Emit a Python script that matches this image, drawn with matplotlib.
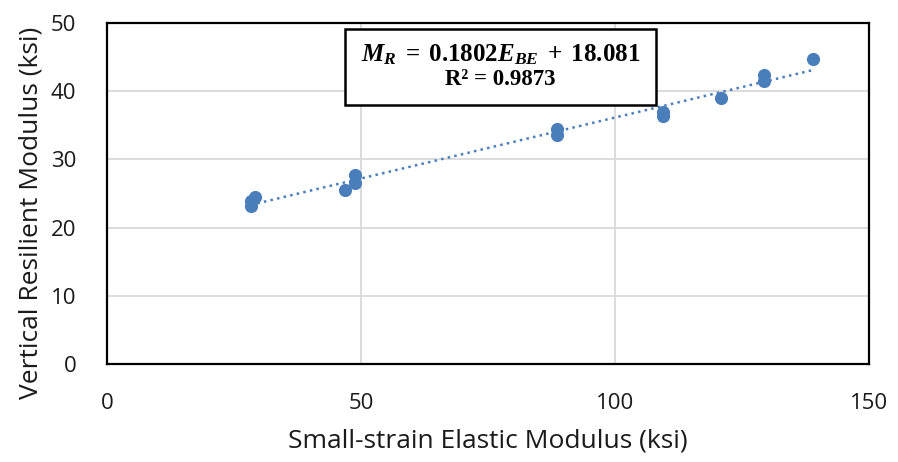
import matplotlib.pyplot as plt
import numpy as np
from matplotlib.patches import Rectangle

# valores
e_be = [28.3, 28.3, 29.1, 46.9, 48.8, 48.8, 88.6, 88.6, 109.4, 109.4, 120.9, 129.3, 129.3, 139.0]
m_r = [23.2, 23.9, 24.5, 25.5, 26.5, 27.7, 33.6, 34.5, 36.4, 36.9, 39.0, 41.5, 42.4, 44.7]

x_ticks = [0, 50, 100, 150]
y_ticks = [0, 10, 20, 30, 40, 50]

equation = r'$M_R\;=\;0.1802E_{BE}\;+\;18.081$'
r2_text = 'R² = 0.9873'

plt.rcParams['font.family'] = ['Open Sans', 'DejaVu Sans']
plt.rcParams['mathtext.fontset'] = 'custom'
plt.rcParams['mathtext.rm'] = 'Liberation Serif:bold'
plt.rcParams['mathtext.it'] = 'Liberation Serif:bold:italic'
plt.rcParams['mathtext.bf'] = 'Liberation Serif:bold'

fig = plt.figure(figsize=(8.98, 4.62), dpi=100)
ax = fig.add_axes([107 / 898, 1 - 364 / 462, 762 / 898, 341 / 462])

ax.scatter(e_be, m_r, s=90, color='#4a7ebb', linewidths=0, zorder=3)

# linha de tendencia
coeffs = np.polyfit(e_be, m_r, 1)
x_vals = np.linspace(min(e_be), max(e_be), 50)
ax.plot(x_vals, np.poly1d(coeffs)(x_vals), color='#4a7ebb', linestyle=(0, (1, 1.7)),
        linewidth=1.8, zorder=2)

ax.set_xlim(0, 150)
ax.set_ylim(0, 50)
ax.set_xticks(x_ticks)
ax.set_yticks(y_ticks)
ax.grid(True, color='#d9d9d9', linewidth=1.3)
ax.set_axisbelow(True)
for s in ax.spines.values():
    s.set_linewidth(1.6)
    s.set_color('black')
ax.tick_params(length=0, labelsize=16, colors='#1a1a1a')
ax.tick_params(axis='x', pad=21)
ax.tick_params(axis='y', pad=22)
ax.set_xlabel('Small-strain Elastic Modulus (ksi)', fontsize=19, color='#1a1a1a')
ax.set_ylabel('Vertical Resilient Modulus (ksi)', fontsize=19, color='#1a1a1a')
ax.xaxis.set_label_coords(0.5, -0.19)
ax.yaxis.set_label_coords(-0.083, 0.443)

# caixa da equacao
ax.add_patch(Rectangle((0.312, 0.760), 0.408, 0.222, transform=ax.transAxes,
                       facecolor='white', edgecolor='black', linewidth=1.8, zorder=4))
ax.text(0.516, 0.906, equation, transform=ax.transAxes, ha='center', va='center',
        fontsize=18, zorder=5)
ax.text(0.516, 0.833, r2_text, transform=ax.transAxes, ha='center', va='center',
        fontsize=16.5, family='Liberation Serif', fontweight='bold', zorder=5)

plt.savefig('out.png', dpi=100)
